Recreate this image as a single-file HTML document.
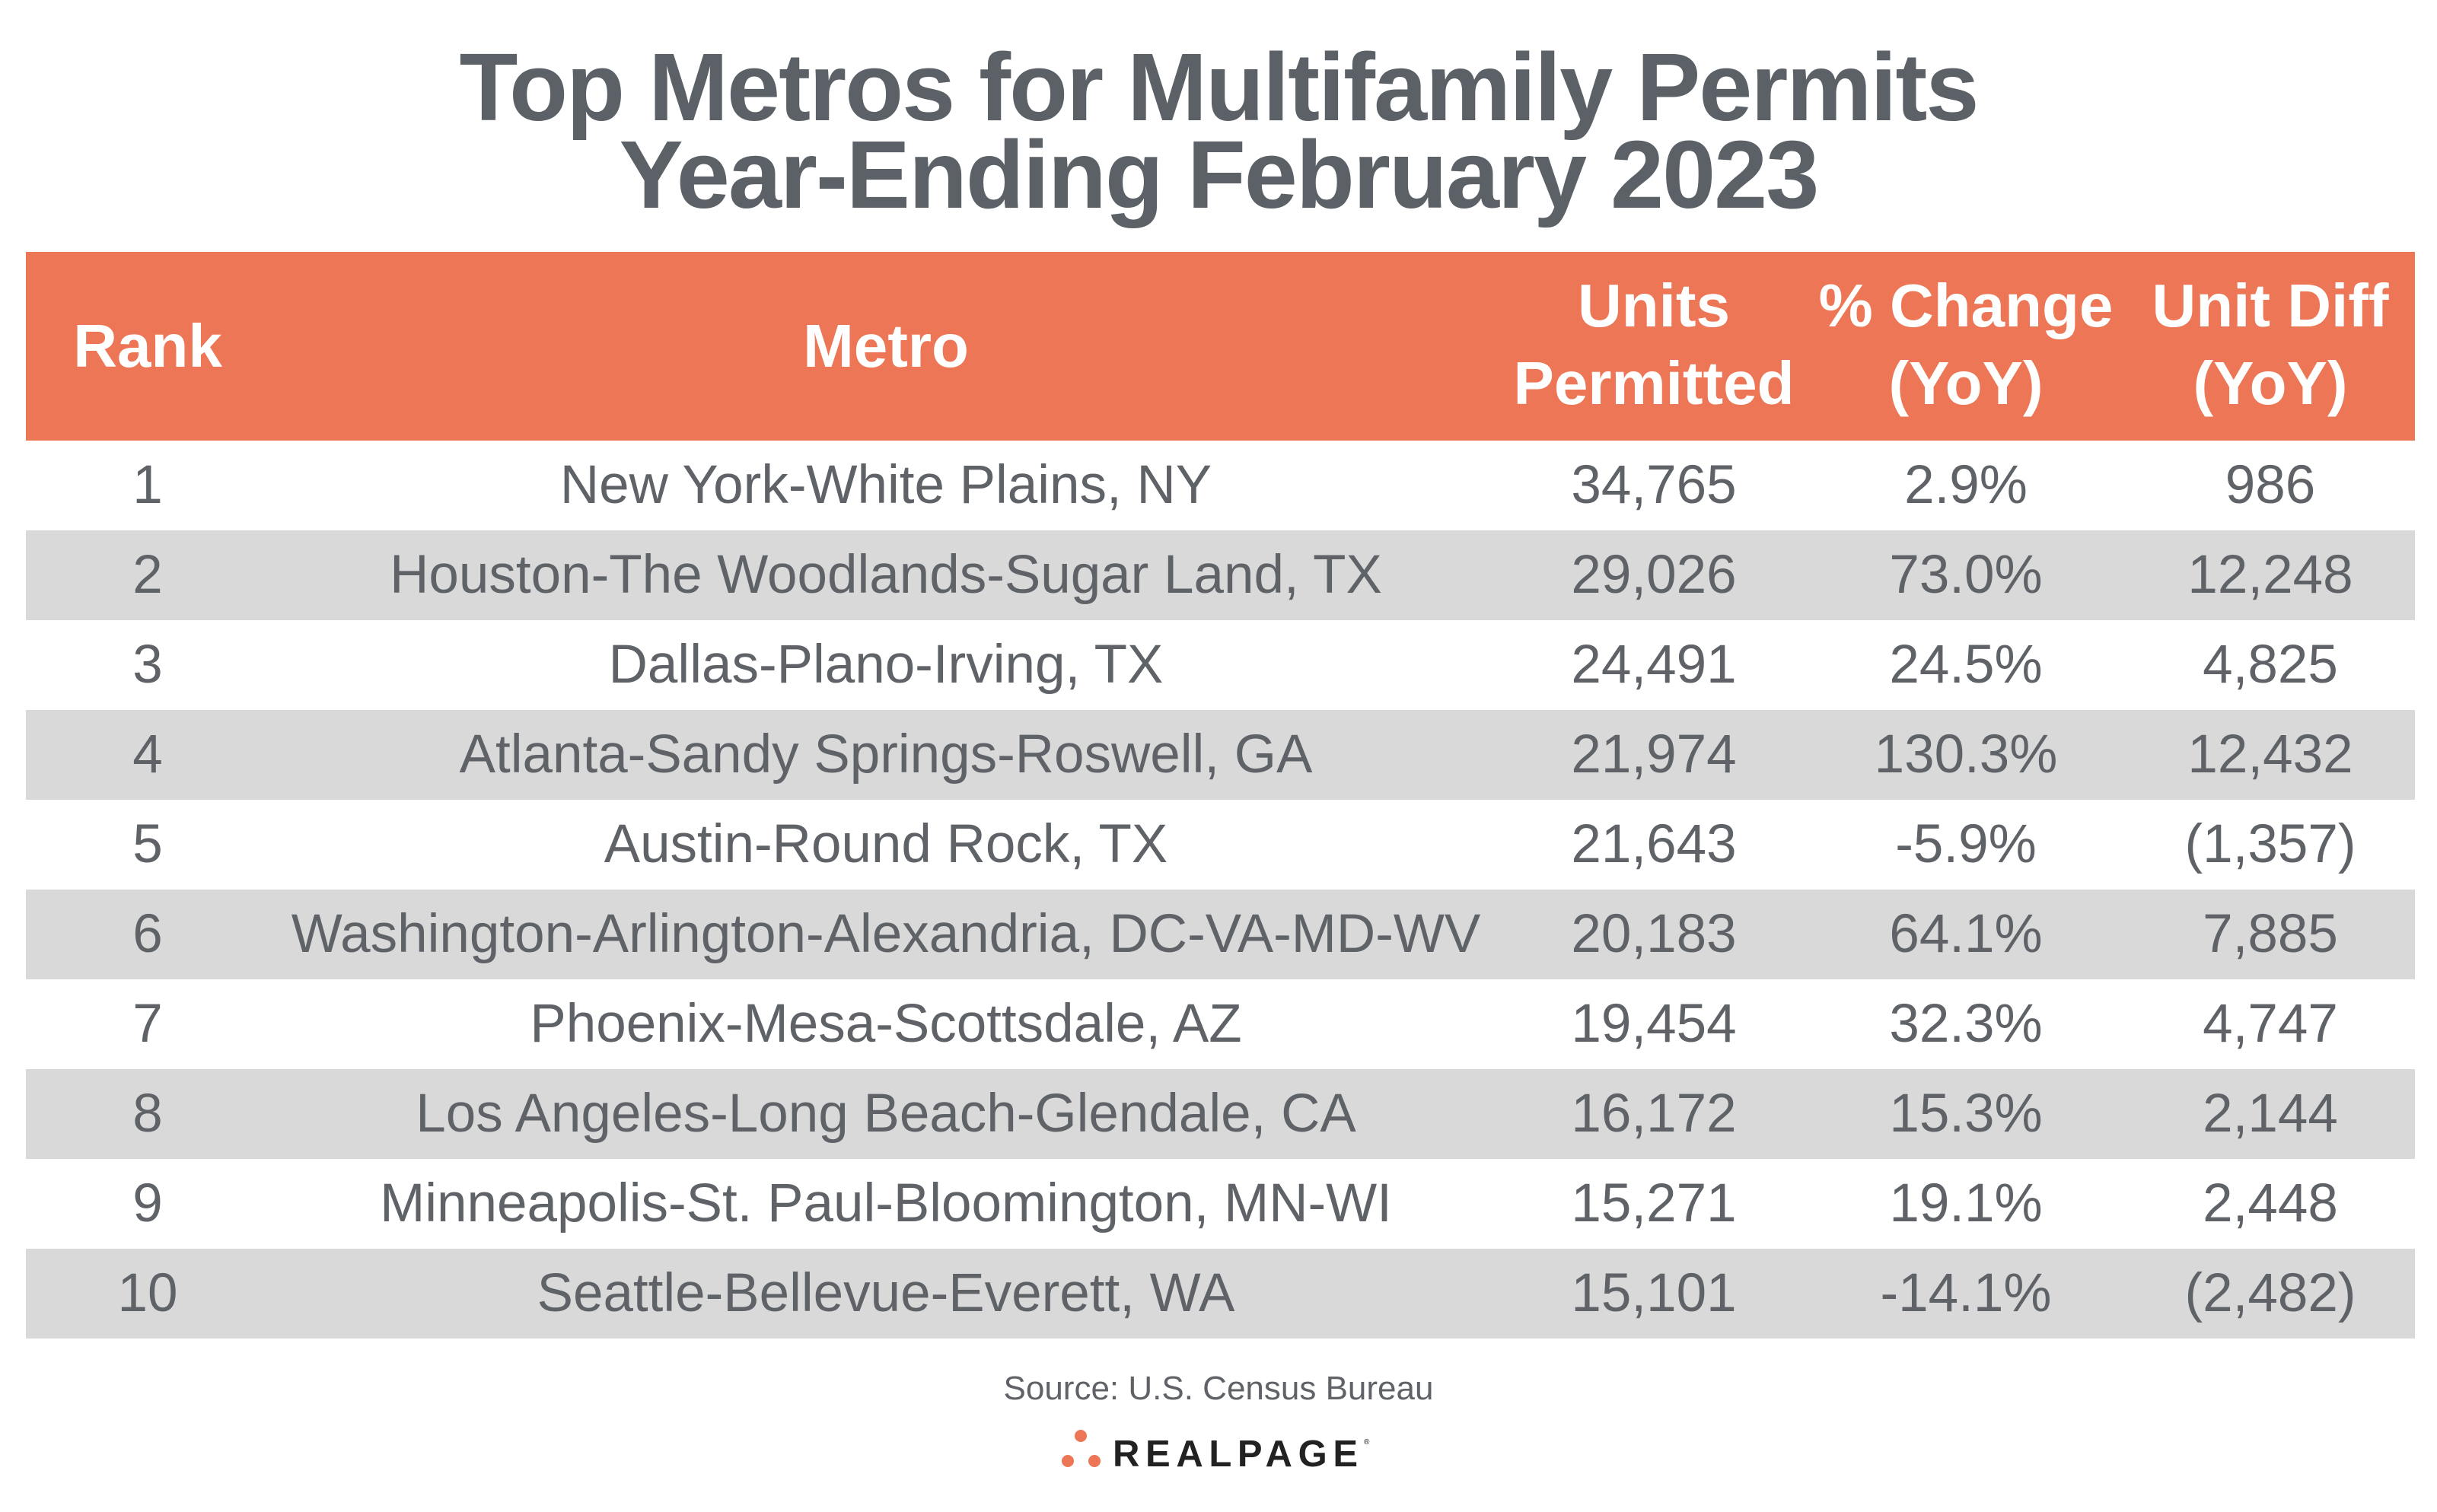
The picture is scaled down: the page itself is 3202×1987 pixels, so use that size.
<!DOCTYPE html>
<html><head><meta charset="utf-8"><style>
html,body{margin:0;padding:0;background:#fff;}
body{width:3202px;height:1987px;position:relative;overflow:hidden;font-family:"Liberation Sans",sans-serif;}
.t{position:absolute;left:0;width:3202px;text-align:center;color:#5b6166;font-weight:bold;font-size:126px;letter-spacing:-2px;}
.hdr{position:absolute;left:34px;width:3139px;top:331px;height:248px;background:#ec7655;}
.h{position:absolute;color:#fff;font-weight:bold;font-size:80px;text-align:center;line-height:102px;transform:translateX(-50%);white-space:nowrap;}
.row{position:absolute;left:34px;width:3139px;height:118px;}
.g{background:#d9d9d9;}
.c{position:absolute;top:0;line-height:118px;font-size:71px;color:#5f6368;transform:translateX(-50%);white-space:nowrap;}
</style></head><body>
<div class="t" style="top:40px;line-height:150px;">Top Metros for Multifamily Permits</div>
<div class="t" style="top:155px;line-height:150px;">Year-Ending February 2023</div>
<div class="hdr">
<div class="h" style="left:160px;top:73px;">Rank</div>
<div class="h" style="left:1130px;top:73px;">Metro</div>
<div class="h" style="left:2139px;top:20px;">Units<br>Permitted</div>
<div class="h" style="left:2549px;top:20px;">% Change<br>(YoY)</div>
<div class="h" style="left:2949px;top:20px;">Unit Diff<br>(YoY)</div>
</div>
<div class="row" style="top:579px"><div class="c" style="left:160px">1</div><div class="c" style="left:1130px">New York-White Plains, NY</div><div class="c" style="left:2139px">34,765</div><div class="c" style="left:2549px">2.9%</div><div class="c" style="left:2949px">986</div></div>
<div class="row g" style="top:697px"><div class="c" style="left:160px">2</div><div class="c" style="left:1130px">Houston-The Woodlands-Sugar Land, TX</div><div class="c" style="left:2139px">29,026</div><div class="c" style="left:2549px">73.0%</div><div class="c" style="left:2949px">12,248</div></div>
<div class="row" style="top:815px"><div class="c" style="left:160px">3</div><div class="c" style="left:1130px">Dallas-Plano-Irving, TX</div><div class="c" style="left:2139px">24,491</div><div class="c" style="left:2549px">24.5%</div><div class="c" style="left:2949px">4,825</div></div>
<div class="row g" style="top:933px"><div class="c" style="left:160px">4</div><div class="c" style="left:1130px">Atlanta-Sandy Springs-Roswell, GA</div><div class="c" style="left:2139px">21,974</div><div class="c" style="left:2549px">130.3%</div><div class="c" style="left:2949px">12,432</div></div>
<div class="row" style="top:1051px"><div class="c" style="left:160px">5</div><div class="c" style="left:1130px">Austin-Round Rock, TX</div><div class="c" style="left:2139px">21,643</div><div class="c" style="left:2549px">-5.9%</div><div class="c" style="left:2949px">(1,357)</div></div>
<div class="row g" style="top:1169px"><div class="c" style="left:160px">6</div><div class="c" style="left:1130px">Washington-Arlington-Alexandria, DC-VA-MD-WV</div><div class="c" style="left:2139px">20,183</div><div class="c" style="left:2549px">64.1%</div><div class="c" style="left:2949px">7,885</div></div>
<div class="row" style="top:1287px"><div class="c" style="left:160px">7</div><div class="c" style="left:1130px">Phoenix-Mesa-Scottsdale, AZ</div><div class="c" style="left:2139px">19,454</div><div class="c" style="left:2549px">32.3%</div><div class="c" style="left:2949px">4,747</div></div>
<div class="row g" style="top:1405px"><div class="c" style="left:160px">8</div><div class="c" style="left:1130px">Los Angeles-Long Beach-Glendale, CA</div><div class="c" style="left:2139px">16,172</div><div class="c" style="left:2549px">15.3%</div><div class="c" style="left:2949px">2,144</div></div>
<div class="row" style="top:1523px"><div class="c" style="left:160px">9</div><div class="c" style="left:1130px">Minneapolis-St. Paul-Bloomington, MN-WI</div><div class="c" style="left:2139px">15,271</div><div class="c" style="left:2549px">19.1%</div><div class="c" style="left:2949px">2,448</div></div>
<div class="row g" style="top:1641px"><div class="c" style="left:160px">10</div><div class="c" style="left:1130px">Seattle-Bellevue-Everett, WA</div><div class="c" style="left:2139px">15,101</div><div class="c" style="left:2549px">-14.1%</div><div class="c" style="left:2949px">(2,482)</div></div>
<div style="position:absolute;left:0;width:3202px;top:1795px;line-height:60px;text-align:center;font-size:44px;color:#5f6368;">Source: U.S. Census Bureau</div>
<svg style="position:absolute;left:0;top:0" width="3202" height="1987">
<circle cx="1420" cy="1887" r="8" fill="#ec7655"/>
<circle cx="1403" cy="1920" r="8" fill="#ec7655"/>
<circle cx="1438" cy="1920" r="8" fill="#ec7655"/>
<text x="1462" y="1927" font-family="Liberation Sans, sans-serif" font-weight="bold" font-size="49" fill="#222" textLength="322" lengthAdjust="spacing">REALPAGE</text>
<text x="1792" y="1898" font-family="Liberation Sans, sans-serif" font-size="10" fill="#222">®</text>
</svg>
</body></html>
